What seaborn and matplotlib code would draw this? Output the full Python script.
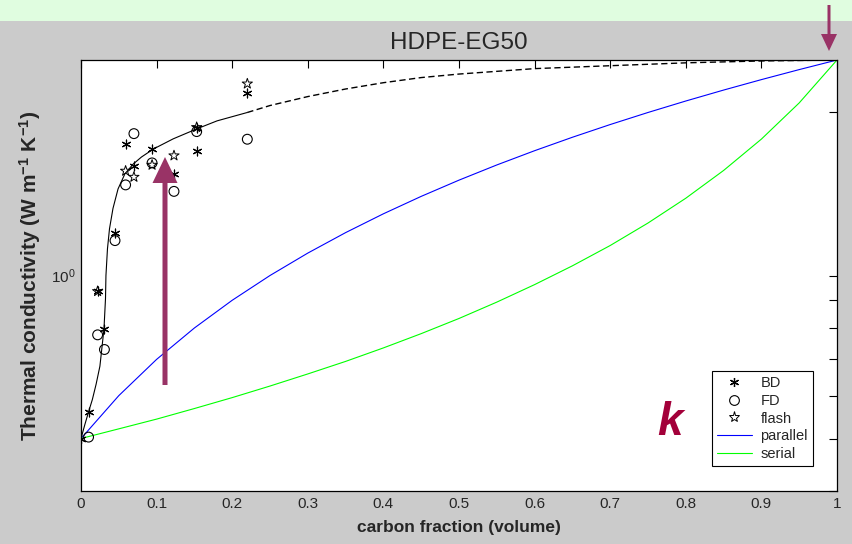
import numpy as np
import pandas as pd
import matplotlib
matplotlib.use("Agg")
import matplotlib.pyplot as plt
import seaborn as sns
from matplotlib.lines import Line2D
from matplotlib.patches import Rectangle, FancyArrow
from matplotlib.ticker import FixedLocator, NullFormatter, LogLocator

# ---------------- data ----------------
bd_x = [0.0, 0.010, 0.022, 0.031, 0.045, 0.059, 0.070, 0.094, 0.123, 0.153, 0.153, 0.220]
bd_y = [0.50, 0.56, 0.935, 0.795, 1.20, 1.75, 1.59, 1.715, 1.54, 1.87, 1.70, 2.17]

fd_x = [0.010, 0.022, 0.031, 0.045, 0.059, 0.070, 0.094, 0.123, 0.153, 0.220]
fd_y = [0.503, 0.777, 0.730, 1.16, 1.47, 1.828, 1.614, 1.43, 1.844, 1.785]

flash_x = [0.022, 0.059, 0.070, 0.094, 0.123, 0.153, 0.220]
flash_y = [0.935, 1.56, 1.52, 1.60, 1.665, 1.878, 2.26]

model_x = [0.00, 0.05, 0.10, 0.15, 0.20, 0.25, 0.30, 0.35, 0.40, 0.45, 0.50,
           0.55, 0.60, 0.65, 0.70, 0.75, 0.80, 0.85, 0.90, 0.95, 1.00]
parallel_y = [0.50, 0.60, 0.70, 0.80, 0.90, 1.00, 1.10, 1.20, 1.30, 1.40, 1.50,
              1.60, 1.70, 1.80, 1.90, 2.00, 2.10, 2.20, 2.30, 2.40, 2.50]
serial_y = [0.500, 0.521, 0.543, 0.568, 0.595, 0.625, 0.658, 0.694, 0.735, 0.781, 0.833,
            0.893, 0.962, 1.042, 1.136, 1.250, 1.389, 1.563, 1.786, 2.083, 2.500]

fit_solid_x = [0.0, 0.005, 0.010, 0.015, 0.020, 0.025, 0.0304, 0.0324, 0.033, 0.035,
               0.0377, 0.0423, 0.049, 0.058, 0.069, 0.080, 0.096, 0.122, 0.153, 0.18, 0.22]
fit_solid_y = [0.50, 0.53, 0.56, 0.59, 0.63, 0.68, 0.797, 0.906, 1.00, 1.12,
               1.22, 1.33, 1.445, 1.54, 1.606, 1.655, 1.713, 1.788, 1.865, 1.93, 2.00]
fit_dash_x = [0.22, 0.25, 0.30, 0.35, 0.40, 0.45, 0.50, 0.60, 0.70, 0.80, 0.90, 1.00]
fit_dash_y = [2.00, 2.06, 2.14, 2.21, 2.27, 2.32, 2.355, 2.41, 2.44, 2.47, 2.49, 2.50]

xtick_vals = [0, 0.1, 0.2, 0.3, 0.4, 0.5, 0.6, 0.7, 0.8, 0.9, 1]
xtick_labels = ["0", "0.1", "0.2", "0.3", "0.4", "0.5", "0.6", "0.7", "0.8", "0.9", "1"]
ytick_vals = [1]
ytick_labels = ["10$^{0}$"]

title = "HDPE-EG50"
xlabel = "carbon fraction (volume)"
ylabel = "Thermal conductivity (W m$^{-1}$ K$^{-1}$)"

# ---------------- style ----------------
sns.set_style("white")
FONT = ["Liberation Sans", "DejaVu Sans"]
plt.rcParams["font.family"] = FONT
plt.rcParams["mathtext.default"] = "regular"

BG = "#cbcbcb"
W, H, DPI = 852, 544, 100
fig = plt.figure(figsize=(W / DPI, H / DPI), dpi=DPI, facecolor=BG)

# light green band at the top
fig.patches.append(Rectangle((0, 1 - 21 / H), 1, 21 / H, transform=fig.transFigure,
                             facecolor="#e0fde0", edgecolor="none", zorder=0))

L, R, T, B = 81, 837, 60, 491
ax = fig.add_axes([L / W, 1 - B / H, (R - L) / W, (B - T) / H])
ax.set_facecolor("white")
ax.set_yscale("log")

df_bd = pd.DataFrame({"x": bd_x, "y": bd_y})
df_fd = pd.DataFrame({"x": fd_x, "y": fd_y})
df_fl = pd.DataFrame({"x": flash_x, "y": flash_y})
df_m = pd.DataFrame({"x": model_x, "parallel": parallel_y, "serial": serial_y})
df_fs = pd.DataFrame({"x": fit_solid_x, "y": fit_solid_y})
df_fdash = pd.DataFrame({"x": fit_dash_x, "y": fit_dash_y})

ASTER = (6, 2, 0)
sns.lineplot(data=df_m, x="x", y="parallel", ax=ax, color="#0000ff", lw=0.8, zorder=2)
sns.lineplot(data=df_m, x="x", y="serial", ax=ax, color="#00ff00", lw=0.8, zorder=2)
sns.lineplot(data=df_fs, x="x", y="y", ax=ax, color="black", lw=0.8, zorder=2)
sns.lineplot(data=df_fdash, x="x", y="y", ax=ax, color="black", lw=1.0,
             linestyle=(0, (4.5, 2.5)), zorder=2)
sns.scatterplot(data=df_bd, x="x", y="y", ax=ax, marker=ASTER, s=40, color="black",
                linewidth=0.85, zorder=3)
sns.scatterplot(data=df_fd, x="x", y="y", ax=ax, marker="o", s=50, facecolor="none",
                edgecolor="black", linewidth=0.8, zorder=3)
sns.scatterplot(data=df_fl, x="x", y="y", ax=ax, marker="*", s=60, facecolor="none",
                edgecolor="black", linewidth=0.7, zorder=3)

ax.set_xlim(0, 1)
ax.set_ylim(0.4, 2.5)
ax.set_xticks(xtick_vals)
ax.set_xticklabels(xtick_labels)
ax.yaxis.set_major_locator(FixedLocator(ytick_vals))
ax.set_yticklabels(ytick_labels)
ax.yaxis.set_minor_locator(LogLocator(base=10, subs=np.arange(2, 10)))
ax.yaxis.set_minor_formatter(NullFormatter())
ax.tick_params(which="both", direction="in", top=True, right=True, length=5.5,
               width=0.8, color="black", labelsize=11, pad=4)
for s in ax.spines.values():
    s.set_color("black")
    s.set_linewidth(0.9)

ax.set_title(title, fontsize=17.5, pad=8)
ax.set_xlabel(xlabel, fontsize=12.5, fontweight="bold", labelpad=7)
ax.set_ylabel(ylabel, fontsize=15, fontweight="bold", labelpad=6)

handles = [
    Line2D([], [], marker=ASTER, color="black", ls="none", ms=6.5, mew=0.9),
    Line2D([], [], marker="o", mfc="none", mec="black", ls="none", ms=7, mew=0.8),
    Line2D([], [], marker="*", mfc="none", mec="black", ls="none", ms=8, mew=0.7),
    Line2D([], [], color="#0000ff", lw=0.8),
    Line2D([], [], color="#00ff00", lw=0.8),
]
labels = ["BD", "FD", "flash", "parallel", "serial"]
leg = ax.legend(handles, labels, loc="lower right",
                bbox_to_anchor=((813 - L) / (R - L), (B - 466) / (B - T)),
                borderaxespad=0, fancybox=False, framealpha=1, edgecolor="black",
                fontsize=10.5, handlelength=2.4, labelspacing=0.25, handletextpad=0.6,
                borderpad=0.35)
leg.get_frame().set_linewidth(0.8)

# letter k
fig.text(670 / W, 1 - 423 / H, "k", fontsize=33, fontweight="bold", fontstyle="italic",
         color="#a3003a", ha="center", va="center")

# arrows (figure pixel coordinates)
ARROW = "#993366"
def px_arrow(x, y0, y1, width, hw, hl):
    fig.patches.append(FancyArrow(x / DPI, (H - y0) / DPI, 0, -(y1 - y0) / DPI,
                                  width=width / DPI, head_width=hw / DPI,
                                  head_length=hl / DPI, length_includes_head=True,
                                  transform=fig.dpi_scale_trans, color=ARROW,
                                  lw=0, zorder=10))

px_arrow(165, 385, 157, 5, 25, 26)
px_arrow(829, 5, 51, 3, 16, 17)

fig.savefig("out.png", dpi=DPI, facecolor=BG)
